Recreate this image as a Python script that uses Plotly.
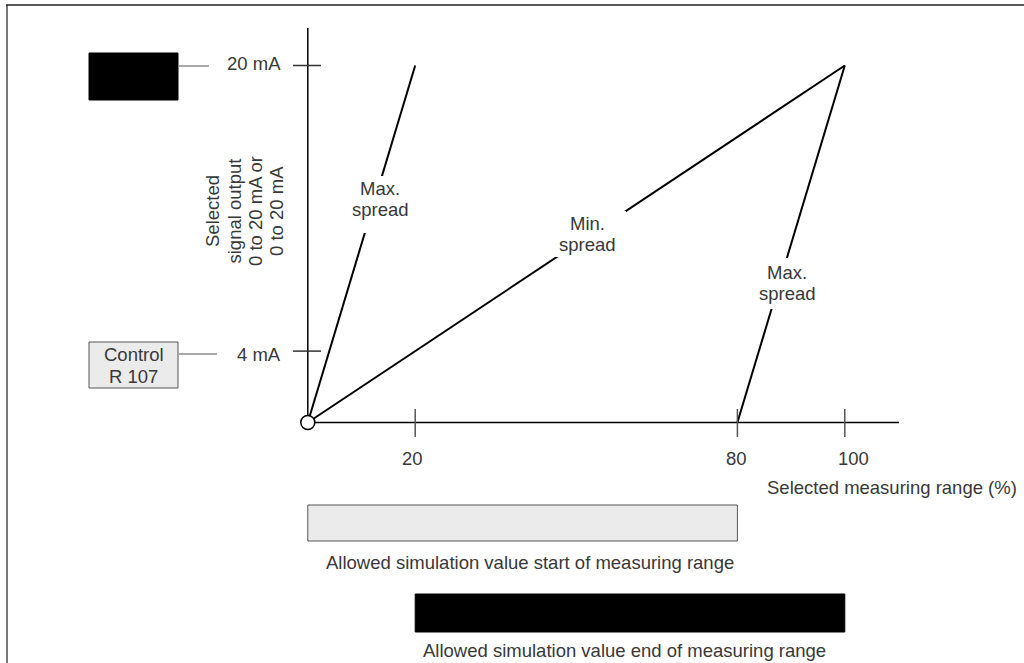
import plotly.graph_objects as go

# ---------------- data ----------------
max_spread_low_x = [0, 20]
max_spread_low_y = [0, 20]
min_spread_x = [0, 100]
min_spread_y = [0, 20]
max_spread_high_x = [80, 100]
max_spread_high_y = [0, 20]

x_ticks = [20, 80, 100]
x_tick_labels = ["20", "80", "100"]
y_ticks = [4, 20]
y_tick_labels = ["4 mA", "20 mA"]

start_sim_range = [0, 80]    # allowed simulation value start of measuring range (%)
end_sim_range = [20, 100]    # allowed simulation value end of measuring range (%)

x_title = "Selected measuring range (%)"
y_title_lines = ["Selected", "signal output", "0 to 20 mA or", "0 to 20 mA"]
start_label = "Allowed simulation value start of measuring range"
end_label = "Allowed simulation value end of measuring range"

# ---------------- layout geometry ----------------
W, H = 1024, 663
ox, sx = 307.8, 5.37     # pixel of x=0, pixels per %
oy, sy = 422.5, 17.85    # pixel of y=0, pixels per mA
x_range = [(0 - ox) / sx, (W - ox) / sx]
y_range = [(oy - H) / sy, oy / sy]

FONT = "Liberation Sans, Arial, Helvetica, sans-serif"
TXT = "#383838"


def pxx(px):
    return px / W


def pxy(py):
    return 1 - py / H


def dx(px):
    return (px - ox) / sx


def dy(py):
    return (oy - py) / sy


fig = go.Figure()

for xs, ys in [(max_spread_low_x, max_spread_low_y),
               (min_spread_x, min_spread_y),
               (max_spread_high_x, max_spread_high_y)]:
    fig.add_trace(go.Scatter(x=xs, y=ys, mode="lines",
                             line=dict(color="black", width=2),
                             hoverinfo="skip", showlegend=False))

# origin circle
fig.add_trace(go.Scatter(x=[min_spread_x[0]], y=[min_spread_y[0]], mode="markers",
                         marker=dict(size=14, color="white",
                                     line=dict(color="black", width=1.5)),
                         hoverinfo="skip", showlegend=False))

shapes = []
annotations = []

# frame
shapes.append(dict(type="line", xref="paper", yref="paper",
                   x0=pxx(7), x1=pxx(7), y0=pxy(5), y1=pxy(H + 2),
                   line=dict(color="#777777", width=2)))
shapes.append(dict(type="line", xref="paper", yref="paper",
                   x0=pxx(6), x1=pxx(W + 2), y0=pxy(5), y1=pxy(5),
                   line=dict(color="#222222", width=1.5)))

# axes lines
shapes.append(dict(type="line", xref="x", yref="y", x0=0, x1=dx(899), y0=0, y1=0,
                   line=dict(color="black", width=1.5), layer="below"))
shapes.append(dict(type="line", xref="x", yref="y", x0=0, x1=0, y0=0, y1=dy(28),
                   line=dict(color="black", width=1.5), layer="below"))

# x ticks + labels
x_label_shift = [-3, -1, 9]
for t, lab, sh in zip(x_ticks, x_tick_labels, x_label_shift):
    shapes.append(dict(type="line", xref="x", yref="paper", x0=t, x1=t,
                       y0=pxy(409), y1=pxy(437),
                       line=dict(color="#555555", width=1.5)))
    annotations.append(dict(xref="x", yref="paper", x=t, y=pxy(458), text=lab,
                            showarrow=False, xanchor="center", yanchor="middle",
                            xshift=sh, font=dict(family=FONT, size=18.5, color=TXT)))

# y ticks + labels
y_label_py = {4: 354, 20: 64}
for t, lab in zip(y_ticks, y_tick_labels):
    shapes.append(dict(type="line", xref="paper", yref="y", x0=pxx(293), x1=pxx(321),
                       y0=t, y1=t, line=dict(color="#333333", width=1.5)))
    annotations.append(dict(xref="paper", yref="paper", x=pxx(283), y=pxy(y_label_py[t]),
                            text=lab, showarrow=False, xanchor="right", yanchor="middle",
                            font=dict(family=FONT, size=18.5, color=TXT)))

# left side legend boxes and connectors
shapes.append(dict(type="rect", xref="paper", yref="paper",
                   x0=pxx(89), x1=pxx(178), y0=pxy(53), y1=pxy(100),
                   fillcolor="black", line=dict(color="black", width=1)))
shapes.append(dict(type="line", xref="paper", yref="paper",
                   x0=pxx(179), x1=pxx(209), y0=pxy(66), y1=pxy(66),
                   line=dict(color="#555555", width=1)))
shapes.append(dict(type="rect", xref="paper", yref="paper",
                   x0=pxx(89), x1=pxx(178), y0=pxy(342), y1=pxy(388),
                   fillcolor="#ebebeb", line=dict(color="#555555", width=1)))
shapes.append(dict(type="line", xref="paper", yref="paper",
                   x0=pxx(179), x1=pxx(217), y0=pxy(354), y1=pxy(354),
                   line=dict(color="#555555", width=1)))
for txt, py in [("Control", 354), ("R 107", 376)]:
    annotations.append(dict(xref="paper", yref="paper", x=pxx(133.5), y=pxy(py), text=txt,
                            showarrow=False, xanchor="center", yanchor="middle",
                            font=dict(family=FONT, size=18.5, color=TXT)))

# y title (rotated, 4 lines)
for txt, px in zip(y_title_lines, [212, 233.5, 255, 276]):
    annotations.append(dict(xref="paper", yref="paper", x=pxx(px), y=pxy(211), text=txt,
                            textangle=-90, showarrow=False, xanchor="center",
                            yanchor="middle", font=dict(family=FONT, size=18.5, color=TXT)))

# x title
annotations.append(dict(xref="paper", yref="paper", x=pxx(1019), y=pxy(487), text=x_title,
                        showarrow=False, xanchor="right", yanchor="middle",
                        font=dict(family=FONT, size=18.5, color=TXT)))

# white gaps behind curve labels
for (x0, x1, y0, y1) in [(350, 412, 176, 233), (555, 626, 211, 257), (755, 820, 258, 309)]:
    shapes.append(dict(type="rect", xref="paper", yref="paper",
                       x0=pxx(x0), x1=pxx(x1), y0=pxy(y0), y1=pxy(y1),
                       fillcolor="white", line=dict(width=0), layer="above"))

# curve labels
for cx, lines in [(380, [("Max.", 188), ("spread", 209)]),
                  (587, [("Min.", 223), ("spread", 244)]),
                  (787, [("Max.", 272), ("spread", 293)])]:
    for txt, py in lines:
        annotations.append(dict(xref="paper", yref="paper", x=pxx(cx), y=pxy(py), text=txt,
                                showarrow=False, xanchor="center", yanchor="middle",
                                font=dict(family=FONT, size=18.5, color=TXT)))

# simulation range bars
shapes.append(dict(type="rect", xref="x", yref="paper",
                   x0=start_sim_range[0], x1=start_sim_range[1],
                   y0=pxy(505), y1=pxy(541),
                   fillcolor="#ebebeb", line=dict(color="#555555", width=1)))
shapes.append(dict(type="rect", xref="x", yref="paper",
                   x0=end_sim_range[0], x1=end_sim_range[1],
                   y0=pxy(594), y1=pxy(632),
                   fillcolor="black", line=dict(color="black", width=1)))
annotations.append(dict(xref="paper", yref="paper", x=pxx(530), y=pxy(562), text=start_label,
                        showarrow=False, xanchor="center", yanchor="middle",
                        font=dict(family=FONT, size=18.5, color=TXT)))
annotations.append(dict(xref="paper", yref="paper", x=pxx(624), y=pxy(650), text=end_label,
                        showarrow=False, xanchor="center", yanchor="middle",
                        font=dict(family=FONT, size=18.5, color=TXT)))

fig.update_layout(
    width=W, height=H, autosize=False,
    margin=dict(l=0, r=0, t=0, b=0, pad=0),
    paper_bgcolor="white", plot_bgcolor="white",
    xaxis=dict(range=x_range, visible=False, fixedrange=True),
    yaxis=dict(range=y_range, visible=False, fixedrange=True),
    shapes=shapes, annotations=annotations,
    showlegend=False,
    hovermode=False,
)

fig.write_html("out.html",
               config={"displayModeBar": False, "staticPlot": True},
               post_script="document.body.style.margin='0px';"
                           "document.body.style.overflow='hidden';")
